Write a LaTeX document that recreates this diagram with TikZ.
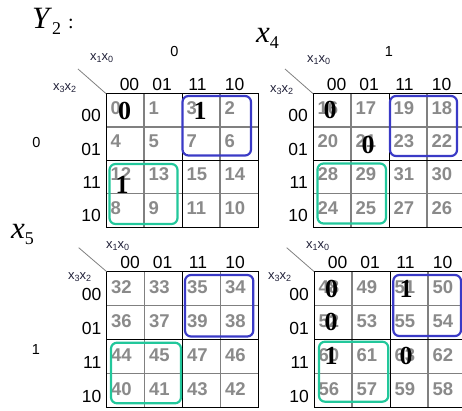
\documentclass[tikz,border=0pt]{standalone}
\usepackage{fontspec}
\setmainfont{Liberation Serif}
\newfontfamily\arial{Liberation Sans}
\definecolor{kblue}{HTML}{3A3AC6}
\definecolor{kgreen}{HTML}{22C79B}
\definecolor{numgray}{HTML}{8A8A8A}
\definecolor{gridgray}{HTML}{808080}
\definecolor{labcol}{HTML}{202038}
\newcommand\xs[1]{x\raisebox{-2.5pt}{\fontsize{9}{9}\selectfont #1}}
% #1 base number, #2 left, #3 top, #4 row height, #5 prefix, #6 baseline offset of cell numbers
\newcommand\kmap[6]{%
  \coordinate (#5tl) at (#2,#3);
  \foreach \i in {1,3} {
    \draw[thingrid] ({#2+\i*38},#3) -- ({#2+\i*38},{#3+4*#4});
    \draw[thingrid] (#2,{#3+\i*#4}) -- ({#2+4*38},{#3+\i*#4});
  }
  \draw[thickgrid] ({#2+2*38},#3) -- ({#2+2*38},{#3+4*#4});
  \draw[thickgrid] (#2,{#3+2*#4}) -- ({#2+4*38},{#3+2*#4});
  \draw[thickgrid] (#2,#3) rectangle ({#2+4*38},{#3+4*#4});
  \foreach \c/\cl/\cx in {0/00/23.5,1/01/56,2/11/91.5,3/10/128.5}
    \node[hdr] (#5h\c) at ({#2+\cx},{#3-3}) {\cl};
  \foreach \r/\rc/\rl in {0/0/00,1/1/01,2/3/11,3/2/10} {
    \node[rowhdr] (#5r\r) at ({#2-5},{#3+\r*#4+0.5*#4+11.5}) {\rl};
    \foreach \c/\cc in {0/0,1/1,2/3,3/2} {
      \pgfmathtruncatemacro\num{#1+4*\rc+\cc}
      \node[cellnum] (#5n\num) at ({#2+\c*38+4.5},{#3+\r*#4+#6}) {\num};
    }
  }
}
\begin{document}
\begin{tikzpicture}[x=1pt,y=-1pt,
  cellnum/.style={anchor=base west,inner sep=0pt,font=\arial\bfseries\fontsize{18.5}{18.5}\selectfont,text=numgray},
  bignum/.style={inner sep=0pt,font=\bfseries\fontsize{26}{26}\selectfont},
  hdr/.style={inner sep=0pt,anchor=base,font=\arial\fontsize{17.5}{17.5}\selectfont},
  rowhdr/.style={inner sep=0pt,anchor=base east,font=\arial\fontsize{17.5}{17.5}\selectfont},
  varlab/.style={inner sep=0pt,anchor=west,text=labcol,font=\arial\fontsize{13}{13}\selectfont},
  smalllab/.style={inner sep=0pt,font=\arial\fontsize{14.5}{14.5}\selectfont},
  biglab/.style={inner sep=0pt,anchor=base west,font=\fontsize{31}{31}\selectfont},
  thingrid/.style={draw=gridgray,line width=1.1pt},
  thickgrid/.style={draw=black,line width=1pt},
  bluebox/.style={draw=kblue,line width=2.2pt,rounded corners=6pt},
  greenbox/.style={draw=kgreen,line width=2.2pt,rounded corners=6pt},
  diagline/.style={draw=gray,line width=0.8pt}]
\useasboundingbox (0,0) rectangle (462,411);
\clip (0,0) rectangle (462,411);

% maps
\kmap{0}{106}{93.6}{33.4}{A}{20.5}
\kmap{16}{313}{93.6}{33.4}{B}{20.5}
\kmap{32}{106.5}{271.5}{34.1}{C}{22}
\kmap{48}{314}{271.5}{34.1}{D}{22}

% variable labels and diagonals
\node[varlab] (Ax10) at (90,58) {\xs{1}\xs{0}};
\node[varlab] (Ax32) at (53,88) {\xs{3}\xs{2}};
\coordinate (Ad) at (78,69);
\draw[diagline] (Ad) -- (Atl);
\node[varlab] (Bx10) at (307,60) {\xs{1}\xs{0}};
\node[varlab] (Bx32) at (270,90) {\xs{3}\xs{2}};
\coordinate (Bd) at (285,69);
\draw[diagline] (Bd) -- (Btl);
\node[varlab] (Cx10) at (106,246) {\xs{1}\xs{0}};
\node[varlab] (Cx32) at (68,277) {\xs{3}\xs{2}};
\coordinate (Cd) at (78.7,247.7);
\draw[diagline] (Cd) -- (Ctl);
\node[varlab] (Dx10) at (306,246) {\xs{1}\xs{0}};
\node[varlab] (Dx32) at (268,277) {\xs{3}\xs{2}};
\coordinate (Dd) at (286.7,247.7);
\draw[diagline] (Dd) -- (Dtl);

% small 0/1 labels
\node[smalllab] (s0) at (174.5,52) {0};
\node[smalllab] (s1) at (389,52) {1};
\node[smalllab] (s2) at (36.3,142.5) {0};
\node[smalllab] (s3) at (36,350) {1};

% big labels
\node[biglab] (Y2) at (32,29) {\textit{Y}\raisebox{-6pt}{\fontsize{18}{18}\selectfont 2}\hspace{7pt}{\fontsize{20}{20}\selectfont :}};
\node[biglab] (x4) at (256,43) {\textit{x}\raisebox{-6pt}{\fontsize{18}{18}\selectfont 4}};
\node[biglab] (x5) at (11,238) {\textit{x}\raisebox{-6pt}{\fontsize{18}{18}\selectfont 5}};

% groups
\draw[bluebox] (182.5,96) rectangle (251,155.5);
\draw[greenbox] (109.5,164) rectangle (177.5,224);
\draw[bluebox] (390,96) rectangle (457,156);
\draw[greenbox] (317.5,163.5) rectangle (386,223.5);
\draw[bluebox] (185,275) rectangle (253.3,336.5);
\draw[greenbox] (111,342.7) rectangle (181,403.3);
\draw[bluebox] (393.3,275) rectangle (461,336);
\draw[greenbox] (319,341.7) rectangle (388.3,401.7);

% values
\node[bignum] (v0) at (124.7,110.5) {0};
\node[bignum] (v3) at (200,111) {1};
\node[bignum] (v12) at (122,185) {1};
\node[bignum] (v16) at (330,110) {0};
\node[bignum] (v21) at (368,144.5) {0};
\node[bignum] (v48) at (331.5,289) {0};
\node[bignum] (v51) at (406,289) {1};
\node[bignum] (v52) at (331,322) {0};
\node[bignum] (v60) at (331,356) {1};
\node[bignum] (v63) at (406,356) {0};
\end{tikzpicture}
\end{document}
